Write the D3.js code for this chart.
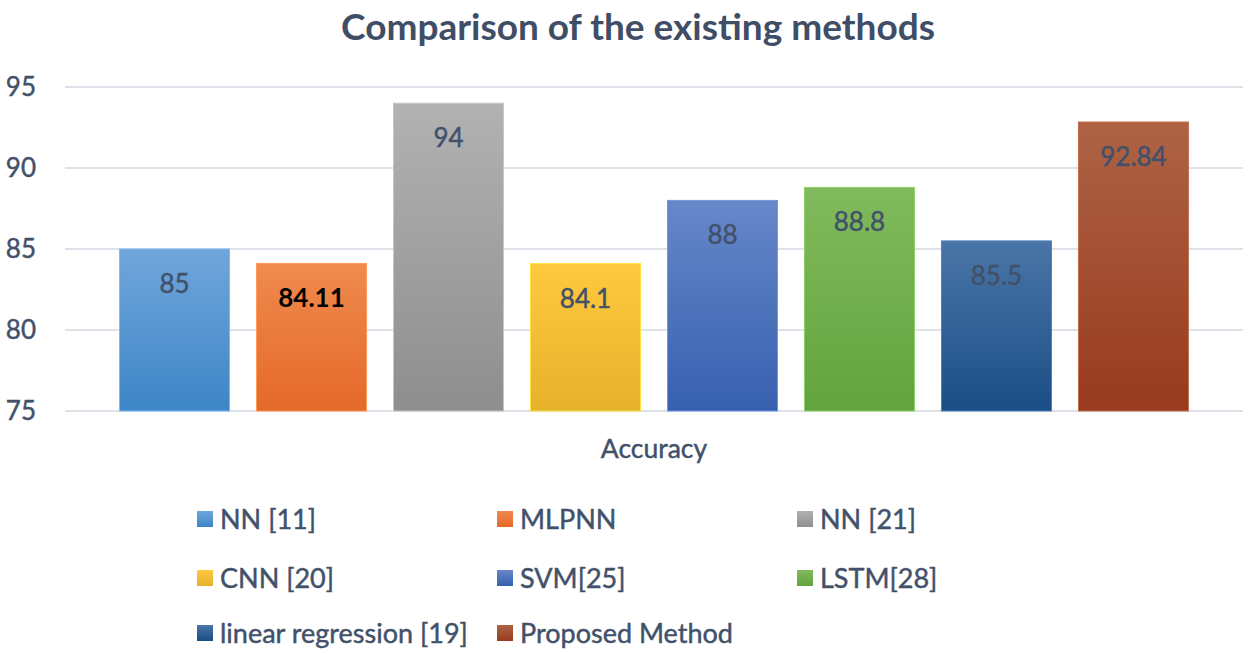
<!DOCTYPE html>
<html>
<head>
<meta charset="utf-8">
<script src="https://cdn.jsdelivr.net/npm/d3@7"></script>
<style>
  body { margin: 0; background: #fff; }
  svg { display: block; font-family: Lato, "Open Sans", sans-serif; }
  .txt { stroke-width: 0.45px; }
</style>
</head>
<body>
<script>
// data
var methods = ["NN [11]", "MLPNN", "NN [21]", "CNN [20]", "SVM[25]", "LSTM[28]", "linear regression [19]", "Proposed Method"];
var accuracy = [85, 84.11, 94, 84.1, 88, 88.8, 85.5, 92.84];
var labels = ["85", "84.11", "94", "84.1", "88", "88.8", "85.5", "92.84"];
var yTicks = [75, 80, 85, 90, 95];
var category = "Accuracy";
var title = "Comparison of the existing methods";

// gradient colours, top -> bottom
var topColors = ["#70a6db", "#f08a4e", "#b2b2b2", "#ffc93e", "#6787c9", "#80ba5c", "#4a75a7", "#ae6345"];
var bottomColors = ["#3d85c7", "#e4692a", "#8e8e8e", "#e6b22c", "#3660af", "#63a33f", "#1a4e86", "#983a1f"];

var width = 1250, height = 654;
var textColor = "#42516a";

var svg = d3.select("body").append("svg")
    .attr("width", width)
    .attr("height", height);

var defs = svg.append("defs");
methods.forEach(function (m, i) {
    var g = defs.append("linearGradient")
        .attr("id", "grad" + i)
        .attr("x1", 0).attr("y1", 0).attr("x2", 0).attr("y2", 1);
    g.append("stop").attr("offset", "0%").attr("stop-color", topColors[i]);
    g.append("stop").attr("offset", "100%").attr("stop-color", bottomColors[i]);
});

var y = d3.scaleLinear().domain([75, 95]).range([411, 87]);
var x = d3.scaleBand().domain(methods).range([65, 1243])
    .paddingInner(0.197).paddingOuter(0.398);

// title, fitted to the width it takes in the picture
var t = svg.append("text")
    .attr("x", 638).attr("y", 40)
    .attr("text-anchor", "middle")
    .style("font-weight", "bold")
    .style("font-size", "32px")
    .style("fill", "#3f4e66")
    .text(title);
var tw = t.node().getComputedTextLength();
t.style("font-size", Math.min(37, 32 * 625 / tw) + "px");

// gridlines
svg.append("g").selectAll("line").data(yTicks).enter().append("line")
    .attr("x1", 65).attr("x2", 1243)
    .attr("y1", function (d) { return y(d); })
    .attr("y2", function (d) { return y(d); })
    .style("stroke", "#dde1e8")
    .style("stroke-width", 2);

// y axis labels
var yAxis = d3.axisLeft(y).tickValues(yTicks).tickSize(0).tickPadding(0);
var ya = svg.append("g").attr("transform", "translate(36,0)").call(yAxis);
ya.select(".domain").remove();
ya.selectAll("text")
    .attr("class", "txt")
    .style("font-family", "Lato, 'Open Sans', sans-serif")
    .style("font-size", "26px")
    .style("fill", textColor)
    .style("stroke", textColor);

// bars
svg.append("g").selectAll("rect").data(accuracy).enter().append("rect")
    .attr("x", function (d, i) { return x(methods[i]); })
    .attr("width", x.bandwidth())
    .attr("y", function (d) { return y(d); })
    .attr("height", function (d) { return y(75) - y(d); })
    .style("fill", function (d, i) { return "url(#grad" + i + ")"; })
    .style("stroke", function (d, i) { return d3.color(topColors[i]).brighter(0.3); })
    .style("stroke-width", 1);

// data labels
svg.append("g").selectAll("text").data(accuracy).enter().append("text")
    .attr("class", "txt")
    .attr("x", function (d, i) { return x(methods[i]) + x.bandwidth() / 2; })
    .attr("y", function (d) { return y(d) + 44; })
    .attr("text-anchor", "middle")
    .style("font-size", "26px")
    .style("font-weight", function (d, i) { return i == 1 ? "bold" : "normal"; })
    .style("fill", function (d, i) { return i == 1 ? "#000" : textColor; })
    .style("stroke", function (d, i) { return i == 1 ? "none" : textColor; })
    .text(function (d, i) { return labels[i]; });

// category label
svg.append("text")
    .attr("class", "txt")
    .attr("x", 654).attr("y", 458)
    .attr("text-anchor", "middle")
    .style("font-size", "26.5px")
    .style("fill", textColor)
    .style("stroke", textColor)
    .text(category);

// legend, 3 columns
var colX = [197, 497, 797];
var rowY = [519, 578, 633];
var leg = svg.append("g").selectAll("g").data(methods).enter().append("g")
    .attr("transform", function (d, i) {
        return "translate(" + colX[i % 3] + "," + rowY[Math.floor(i / 3)] + ")";
    });
leg.append("rect")
    .attr("x", 0).attr("y", -8)
    .attr("width", 16).attr("height", 16)
    .style("fill", function (d, i) { return "url(#grad" + i + ")"; });
leg.append("text")
    .attr("class", "txt")
    .attr("x", 23).attr("y", 10)
    .style("font-size", "27px")
    .style("fill", textColor)
    .style("stroke", textColor)
    .text(function (d) { return d; });
</script>
</body>
</html>
